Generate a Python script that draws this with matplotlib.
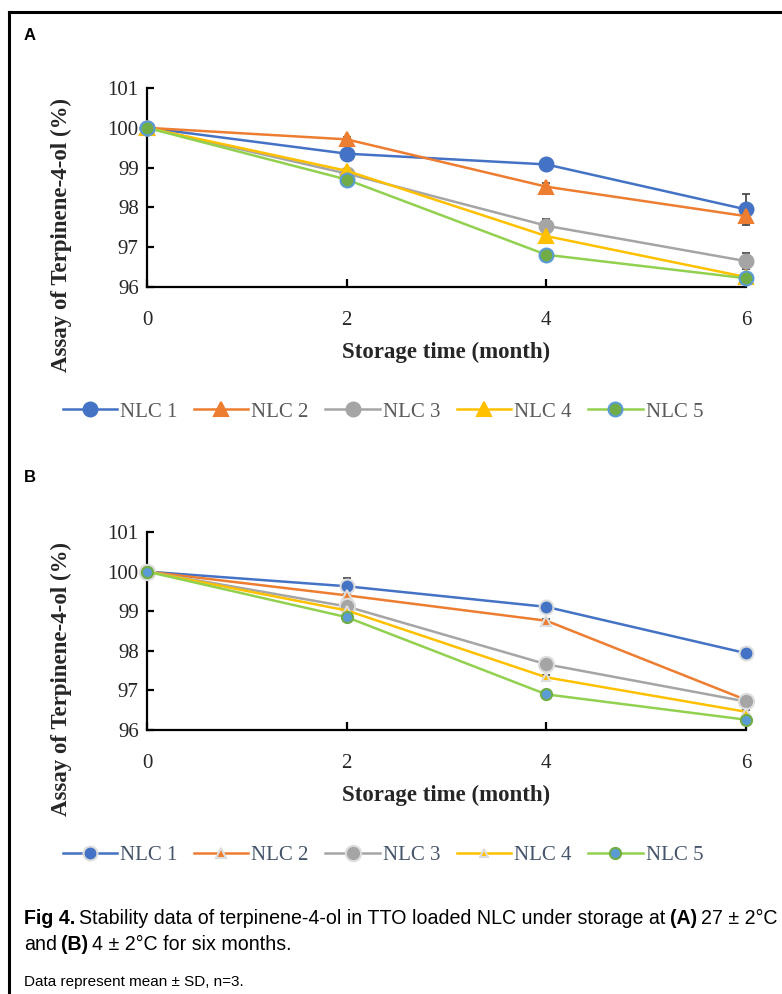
import numpy as np
import matplotlib
matplotlib.use("Agg")
from matplotlib import pyplot as plt
from matplotlib.lines import Line2D

months = [0, 2, 4, 6]
labels = ["NLC 1", "NLC 2", "NLC 3", "NLC 4", "NLC 5"]

# panel A: 27 +/- 2 C
a_mean = [
    [100.0, 99.35, 99.08, 97.95],
    [100.0, 99.71, 98.52, 97.78],
    [100.0, 98.85, 97.54, 96.65],
    [100.0, 98.92, 97.28, 96.25],
    [100.0, 98.70, 96.81, 96.22],
]
a_sd = [
    [0.0, 0.12, 0.05, 0.38],
    [0.0, 0.05, 0.10, 0.05],
    [0.0, 0.05, 0.17, 0.20],
    [0.0, 0.05, 0.05, 0.05],
    [0.0, 0.05, 0.05, 0.05],
]

# panel B: 4 +/- 2 C
b_mean = [
    [100.0, 99.63, 99.11, 97.94],
    [100.0, 99.40, 98.76, 96.76],
    [100.0, 99.12, 97.66, 96.72],
    [100.0, 99.02, 97.33, 96.46],
    [100.0, 98.85, 96.90, 96.26],
]
b_sd = [
    [0.0, 0.20, 0.05, 0.05],
    [0.0, 0.05, 0.05, 0.10],
    [0.0, 0.05, 0.12, 0.12],
    [0.0, 0.05, 0.05, 0.05],
    [0.0, 0.05, 0.05, 0.05],
]

line_colors = ["#4472C4", "#ED7D31", "#A5A5A5", "#FFC000", "#92D050"]
markers = ["o", "^", "o", "^", "o"]
face_a = ["#4472C4", "#ED7D31", "#A5A5A5", "#FFC000", "#70AD47"]
edge_a = ["#4472C4", "#ED7D31", "#A5A5A5", "#FFC000", "#5B9BD5"]
face_b = ["#4472C4", "#ED7D31", "#A5A5A5", "#FFC000", "#5B9BD5"]
edge_b = ["#DDDDDD", "#DDDDDD", "#DDDDDD", "#DDDDDD", "#70AD47"]

serif = ["Liberation Serif", "DejaVu Serif"]

W, H = 782, 994
fig = plt.figure(figsize=(W / 100, H / 100), dpi=100)


def fx(px):
    return px / W


def fy(py):
    return 1 - py / H


def panel(top, bottom, means, sds, faces, edges, msizes, legend_y, text_color):
    ax = fig.add_axes([fx(147), fy(bottom), fx(746) - fx(147), fy(top) - fy(bottom)])
    for i in range(5):
        ax.errorbar(months, means[i], yerr=sds[i], fmt="none", ecolor="#404040",
                    elinewidth=1.2, capsize=3, capthick=1.2, zorder=2, clip_on=False)
        ax.plot(months, means[i], color=line_colors[i], lw=1.8, marker=markers[i],
                markersize=msizes[i], markerfacecolor=faces[i], markeredgecolor=edges[i],
                markeredgewidth=1.5, label=labels[i], zorder=3, clip_on=False)
    ax.set_xlim(0, 6)
    ax.set_ylim(96, 101)
    ax.set_xticks([0, 2, 4, 6])
    ax.set_yticks([96, 97, 98, 99, 100, 101])
    for s in ["top", "right"]:
        ax.spines[s].set_visible(False)
    for s in ["left", "bottom"]:
        ax.spines[s].set_linewidth(1.6)
        ax.spines[s].set_color("black")
    ax.tick_params(axis="x", direction="in", length=6, width=1.6, pad=17)
    ax.tick_params(axis="y", direction="in", length=5, width=1.6, pad=6)
    for t in ax.get_xticklabels() + ax.get_yticklabels():
        t.set_fontfamily(serif)
        t.set_fontsize(15)
        t.set_color("#262626")
    ax.set_xlabel("Storage time (month)", family=serif, fontsize=16.5,
                  fontweight="bold", color="#262626")
    ax.xaxis.set_label_coords(0.5, -55 / (bottom - top))
    ax.set_ylabel("Assay of Terpinene-4-ol (%)", family=serif, fontsize=16.5,
                  fontweight="bold", color="#262626")
    ax.yaxis.set_label_coords(-0.125, 0.26)
    leg = fig.legend(*ax.get_legend_handles_labels(), loc="center",
                     bbox_to_anchor=(fx(383), fy(legend_y)), ncol=5, frameon=False,
                     prop={"family": serif, "size": 15}, handlelength=2.6,
                     handletextpad=0.15, columnspacing=0.8)
    for t in leg.get_texts():
        t.set_color(text_color)
    return ax


ax_a = panel(88, 287, a_mean, a_sd, face_a, edge_a, [10, 10, 10, 10, 10], 412, "#595959")
ax_b = panel(532, 730, b_mean, b_sd, face_b, edge_b, [10, 7, 11, 6, 8], 855, "#44546A")

# panel letters
fig.text(fx(24), fy(35), "A", family=["Liberation Sans", "DejaVu Sans"], fontsize=12,
         fontweight="bold", va="center", ha="left")
fig.text(fx(24), fy(478), "B", family=["Liberation Sans", "DejaVu Sans"], fontsize=12,
         fontweight="bold", va="center", ha="left")

# frame
fig.add_artist(Line2D([fx(9), 1.0], [fy(12), fy(12)], color="black", lw=2.2))
fig.add_artist(Line2D([fx(9), fx(9)], [fy(12), 0.0], color="black", lw=2.2))

# caption
cap = ["Liberation Sans", "DejaVu Sans"]
csize = 14.1
x0 = fx(24)
t1 = fig.text(x0, fy(918), "Fig 4.", family=cap, fontsize=csize, fontweight="bold", va="center")
fig.canvas.draw()
r = fig.canvas.get_renderer()


def after(t, s, bold=False, gap=4):
    bb = t.get_window_extent(renderer=r)
    return fig.text((bb.x1 + gap) / W, t.get_position()[1], s, family=cap, fontsize=csize,
                    fontweight="bold" if bold else "normal", va="center")


t2 = after(t1, "Stability data of terpinene-4-ol in TTO loaded NLC under storage at")
t3 = after(t2, "(A)", bold=True)
t4 = after(t3, "27 ± 2°C")
u1 = fig.text(x0, fy(945), "and", family=cap, fontsize=csize, va="center")
u2 = after(u1, "(B)", bold=True)
u3 = after(u2, "4 ± 2°C for six months.")
fig.text(x0, fy(982), "Data represent mean ± SD, n=3.", family=cap, fontsize=11, va="center")

fig.savefig("out.png", dpi=100)
